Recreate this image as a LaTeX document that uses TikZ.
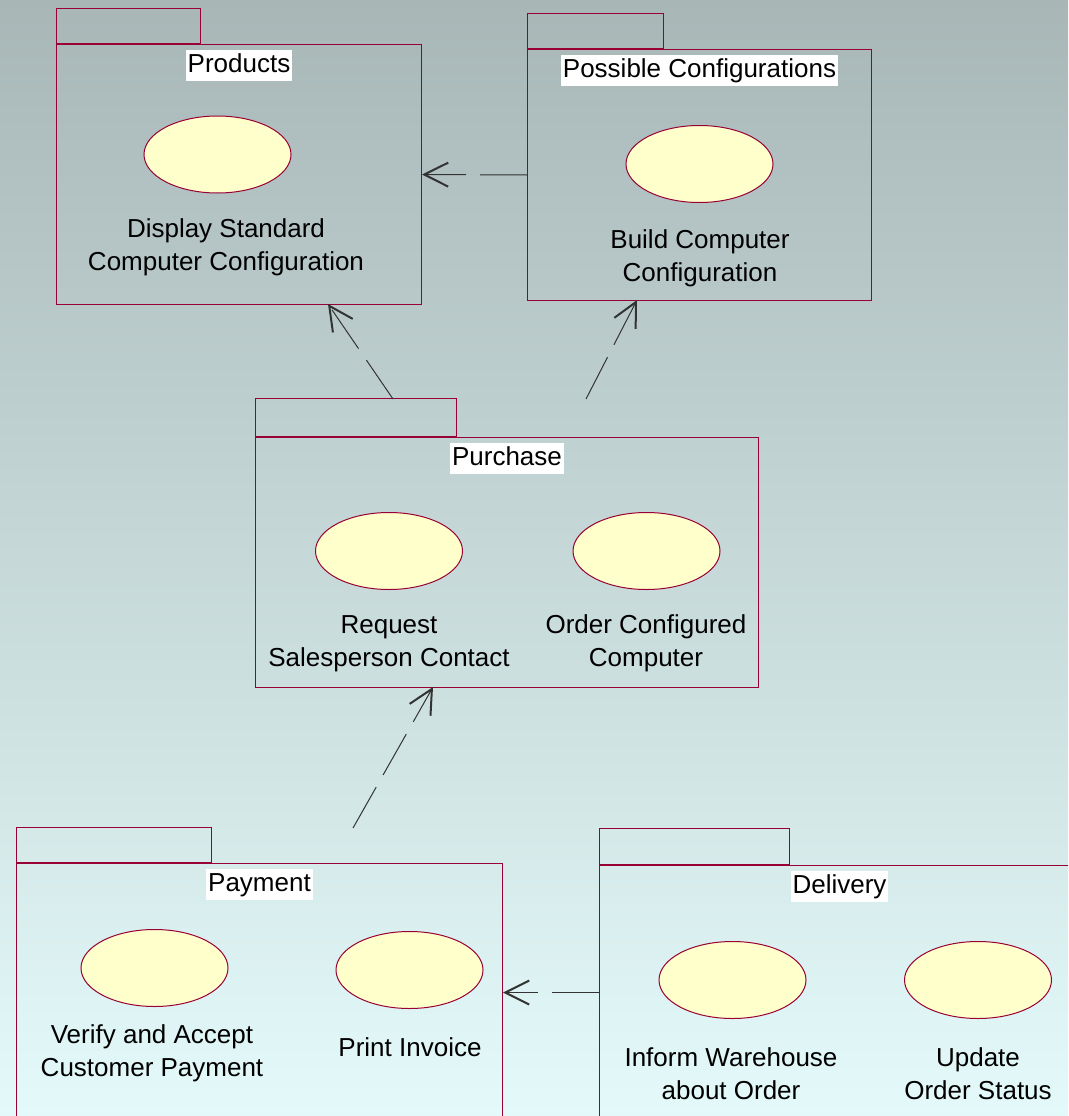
\documentclass[tikz,border=0pt]{standalone}
\usepackage{fontspec}
\setmainfont{Liberation Sans}
\usepackage{xcolor}
\definecolor{pkgline}{RGB}{153,0,51}
\definecolor{ucfill}{RGB}{255,255,204}
\definecolor{bgtop}{RGB}{168,182,182}
\definecolor{bgbottom}{RGB}{228,250,250}
\usetikzlibrary{shapes.geometric}
\usetikzlibrary{arrows.meta}
\usetikzlibrary{positioning}

\tikzset{
	pkgbody/.style={draw=pkgline, line width=1pt, anchor=north west, inner sep=0},
	pkgtab/.style={draw=pkgline, line width=1pt, anchor=south west, inner sep=0},
	pkglabel/.style={fill=white, text height=19pt, text depth=6pt, inner xsep=2pt, inner ysep=3pt, font=\fontsize{26}{33}\selectfont},
	usecase/.style={ellipse, draw=pkgline, fill=ucfill, line width=1pt, minimum width=147pt, minimum height=77pt, inner sep=0},
	uclabel/.style={align=center, inner sep=0, font=\fontsize{26}{33}\selectfont},
	dep/.style={draw=black!80, line width=1pt, dash pattern=on 47pt off 14pt, -{Straight Barb[length=24pt,width=24pt,line width=2pt]}}
}

\begin{document}
\begin{tikzpicture}[x=1pt, y=-1pt]
			\useasboundingbox (0,0) rectangle (1068,1116);
\clip (0,0) rectangle (1068,1116);
\shade[top color=bgtop, bottom color=bgbottom] (0,0) rectangle (1068,1116);

% packages
\node(products)[pkgbody, minimum width=365pt, minimum height=260pt] at (56,44) {};
\node(productstab)[pkgtab, minimum width=144pt, minimum height=35pt] at (products.north west) {};
\node(productslbl)[pkglabel, below=6pt of products.north] {Products};

\node(posconf)[pkgbody, minimum width=344pt, minimum height=251pt] at (527,49) {};
\node(posconftab)[pkgtab, minimum width=136pt, minimum height=35pt] at (posconf.north west) {};
\node(posconflbl)[pkglabel, below=6pt of posconf.north] {Possible Configurations};

\node(purchase)[pkgbody, minimum width=503pt, minimum height=250pt] at (255,437) {};
\node(purchasetab)[pkgtab, minimum width=201pt, minimum height=38pt] at (purchase.north west) {};
\node(purchaselbl)[pkglabel, below=6pt of purchase.north] {Purchase};

\node(payment)[pkgbody, minimum width=486pt, minimum height=258pt] at (16,863) {};
\node(paymenttab)[pkgtab, minimum width=195pt, minimum height=35pt] at (payment.north west) {};
\node(paymentlbl)[pkglabel, below=6pt of payment.north] {Payment};

\node(delivery)[pkgbody, minimum width=480pt, minimum height=254pt] at (599,865) {};
\node(deliverytab)[pkgtab, minimum width=190pt, minimum height=36pt] at (delivery.north west) {};
\node(deliverylbl)[pkglabel, below=6pt of delivery.north] {Delivery};

% use cases
\node(dispstd)[usecase] at (217.5,154.5) {};
\node(dispstdlbl)[uclabel] at (226,247) {Display Standard\\Computer Configuration};

\node(buildconf)[usecase] at (699.5,164) {};
\node(buildconflbl)[uclabel] at (700,258) {Build Computer\\Configuration};

\node(reqsales)[usecase] at (389,551) {};
\node(reqsaleslbl)[uclabel] at (389,643.5) {Request\\Salesperson Contact};

\node(ordconf)[usecase] at (646.5,551) {};
\node(ordconflbl)[uclabel] at (646,643.5) {Order Configured\\Computer};

\node(verifypay)[usecase] at (154.5,968) {};
\node(verifypaylbl)[uclabel] at (152,1053) {Verify and Accept\\Customer Payment};

\node(printinv)[usecase] at (409.5,970) {};
\node(printinvlbl)[uclabel] at (410,1047) {Print Invoice};

\node(informwh)[usecase] at (732.5,980) {};
\node(informwhlbl)[uclabel] at (731,1073.5) {Inform Warehouse\\about Order};

\node(updstatus)[usecase] at (978,980) {};
\node(updstatuslbl)[uclabel] at (978,1073.5) {Update\\Order Status};

% dependencies
\coordinate (purchaseout1) at (393,399);
\coordinate (productsin) at (328,304);
\coordinate (purchaseout2) at (586,399);
\coordinate (posconfin) at (637,300);
\coordinate (paymentout) at (353,828);
\coordinate (purchasein) at (433,687);

\draw[dep] (posconf.west) -- (products.east);
\draw[dep] (purchaseout1) -- (productsin);
\draw[dep] (purchaseout2) -- (posconfin);
\draw[dep] (paymentout) -- (purchasein);
\draw[dep] (delivery.west) -- (payment.east);
		\end{tikzpicture}
\end{document}
